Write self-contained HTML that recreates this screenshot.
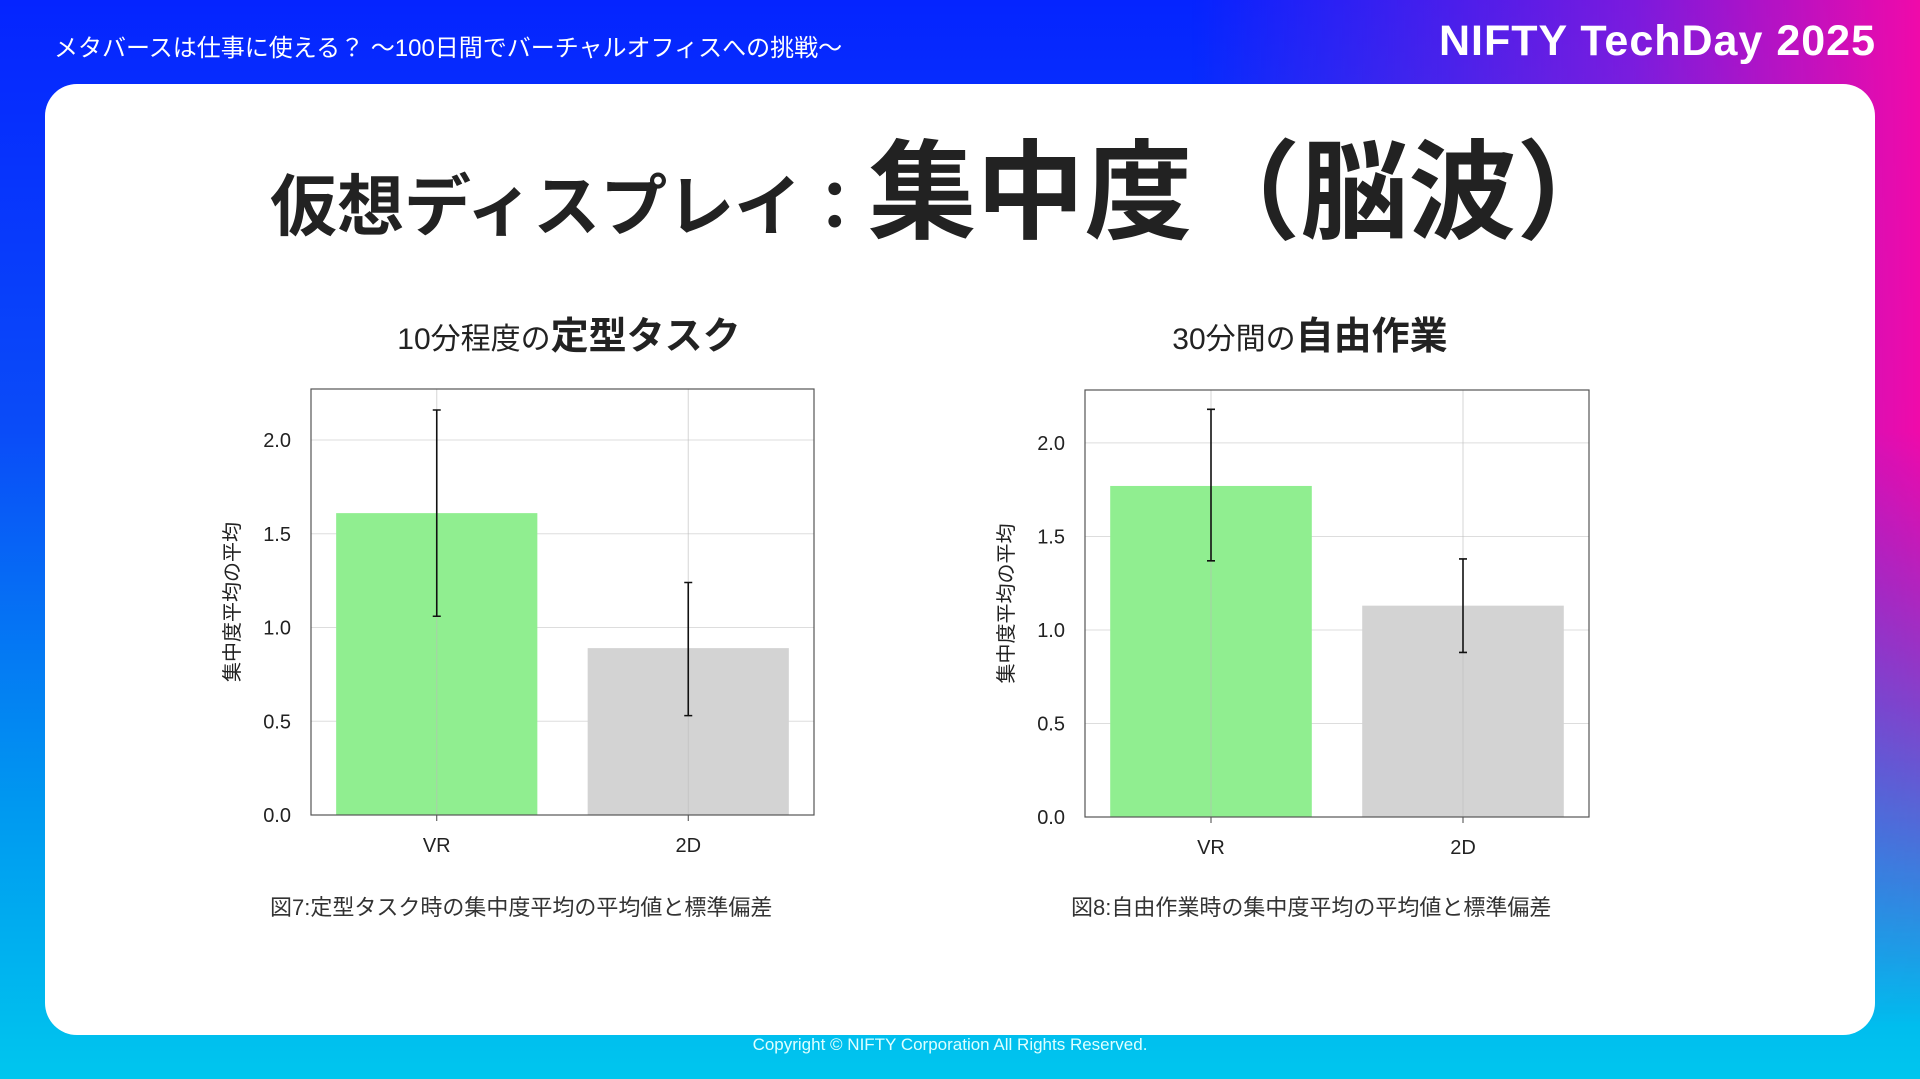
<!DOCTYPE html>
<html><head><meta charset="utf-8"><style>
html,body{margin:0;padding:0;width:1920px;height:1079px;overflow:hidden;font-family:"Liberation Sans","Noto Sans CJK JP",sans-serif}
#bg{position:absolute;left:0;top:0;width:1920px;height:1079px;background:linear-gradient(180deg,#0524ff 0%,#0a4cf8 40%,#0099f0 75%,#00c6ee 100%)}
#bg2{position:absolute;left:0;top:0;width:1920px;height:1079px;background:linear-gradient(90deg,rgba(230,0,180,0) 62%,rgba(200,20,200,0.6) 85%,rgba(240,10,170,1) 100%);-webkit-mask-image:linear-gradient(180deg,#000 0%,#000 40%,rgba(0,0,0,0) 95%);mask-image:linear-gradient(180deg,#000 0%,#000 40%,rgba(0,0,0,0) 95%)}
#card{position:absolute;left:45px;top:84px;width:1830px;height:951px;background:#fff;border-radius:32px}
.t{position:absolute;white-space:nowrap}
</style></head><body>
<div id="bg"></div>
<div id="bg2"></div>
<div class="t" style="left:54px;top:28px;font-size:24px;color:#fff">メタバースは仕事に使える？ 〜100日間でバーチャルオフィスへの挑戦〜</div>
<div class="t" style="right:44px;top:17px;font-size:43px;font-weight:bold;color:#fff;letter-spacing:1px">NIFTY TechDay 2025</div>
<div id="card"></div>
<div class="t" style="left:270px;top:134px;color:#222;font-weight:bold;height:118px;line-height:118px"><span style="font-size:67px">仮想ディスプレイ：</span><span style="font-size:108px">集中度（脳波）</span></div>
<div class="t" style="left:569px;top:305px;transform:translateX(-50%);color:#222"><span style="font-size:30px">10分程度の</span><span style="font-size:38px;font-weight:bold">定型タスク</span></div>
<div class="t" style="left:1310px;top:305px;transform:translateX(-50%);color:#222"><span style="font-size:30px">30分間の</span><span style="font-size:38px;font-weight:bold">自由作業</span></div>
<div class="t" style="left:270px;top:890px;font-size:22px;color:#333">図7:定型タスク時の集中度平均の平均値と標準偏差</div>
<div class="t" style="left:1071px;top:890px;font-size:22px;color:#333">図8:自由作業時の集中度平均の平均値と標準偏差</div>
<div class="t" style="left:950px;top:1035px;transform:translateX(-50%);font-size:17px;color:#dff">Copyright © NIFTY Corporation All Rights Reserved.</div>
<svg id="charts" width="1920" height="1079" style="position:absolute;left:0;top:0"></svg>
<script>
const categories=["VR","2D"];
const leftValues=[1.61,0.89];
const leftErrLow=[1.06,0.53];
const leftErrHigh=[2.16,1.24];
const rightValues=[1.77,1.13];
const rightErrLow=[1.37,0.88];
const rightErrHigh=[2.18,1.38];
const yTicks=[0,0.5,1.0,1.5,2.0];
const tickLabels=["0.0","0.5","1.0","1.5","2.0"];
const colors=["#90ee90","#d3d3d3"];
const NS="http://www.w3.org/2000/svg";
const svg=document.getElementById('charts');
function mk(t,a,p){const e=document.createElementNS(NS,t);for(const k in a)e.setAttribute(k,a[k]);(p||svg).appendChild(e);return e;}
function chart(name,L,R,T,B,ymax,vals,lo,hi){
  const g=mk('g',{});
  
  
  const y=v=>B-(v/ymax)*(B-T);
  const step=(R-L)/categories.length;
  const x=i=>L+step*(i+0.5);
  yTicks.forEach((v,i)=>{
    const gl=mk('line',{x1:L,x2:R,y1:y(v),y2:y(v),stroke:'#ddd','stroke-width':1},g);
    
    
    const tl=mk('text',{x:L-20,y:y(v)+7,'text-anchor':'end','font-size':20,fill:'#222'},g);
    tl.textContent=tickLabels[i];
    
    
  });
  categories.forEach((c,i)=>{
    const w=step*0.8;
    const b=mk('rect',{x:x(i)-w/2,y:y(vals[i]),width:w,height:B-y(vals[i]),fill:colors[i]},g);
    
    
    const vg=mk('line',{x1:x(i),x2:x(i),y1:T,y2:B,stroke:'#bbb','stroke-width':1,opacity:0.6},g);
    
    
    const e=mk('path',{d:`M${x(i)},${y(lo[i])}V${y(hi[i])}M${x(i)-4},${y(lo[i])}h8M${x(i)-4},${y(hi[i])}h8`,stroke:'#111','stroke-width':1.6,fill:'none'},g);
    
    
    const tk=mk('line',{x1:x(i),x2:x(i),y1:B,y2:B+6,stroke:'#444'},g);
    
    
    const xl=mk('text',{x:x(i),y:B+37,'text-anchor':'middle','font-size':20,fill:'#222'},g);
    xl.textContent=c;
    
    
  });
  const fr=mk('rect',{x:L,y:T,width:R-L,height:B-T,fill:'none',stroke:'#555','stroke-width':1.2},g);
  
  
  const yt=mk('text',{x:0,y:0,transform:`translate(${L-72},${(T+B)/2}) rotate(-90)`,'text-anchor':'middle','font-size':20,fill:'#222'},g);
  yt.textContent='集中度平均の平均';
  
  
}
chart('left-chart',311,814,389,815,2.272,leftValues,leftErrLow,leftErrHigh);
chart('right-chart',1085,1589,390,817,2.283,rightValues,rightErrLow,rightErrHigh);
</script>
</body></html>
